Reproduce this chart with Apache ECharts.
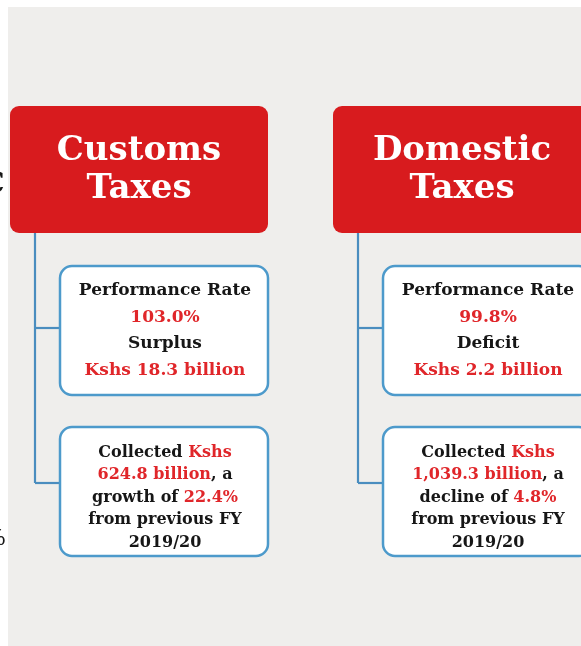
<!DOCTYPE html>
<html>
<head>
<meta charset="utf-8">
<style>
  html, body { margin: 0; padding: 0; background: #efeeec; }
  #chart { width: 581px; height: 646px; }
</style>
<script src="https://cdn.jsdelivr.net/npm/echarts@6/dist/echarts.min.js"></script>
</head>
<body>
<div id="chart"></div>
<script>
// ---- data ----
const categories = ['Customs\nTaxes', 'Domestic\nTaxes'];
const performanceRate = [103.0, 99.8];          // %
const balanceLabel = ['Surplus', 'Deficit'];
const balanceBillions = [18.3, 2.2];            // Kshs billion
const collectedBillions = [624.8, 1039.3];      // Kshs billion
const changeLabel = ['growth', 'decline'];
const changePct = [22.4, 4.8];                  // %
const previousFY = '2019/20';

// ---- styles ----
const RED = '#d81b1e';
const RED_TEXT = '#e0262a';
const DARK = '#161616';
const BLUE = '#4d9acb';
const LINE_BLUE = '#4a8dbf';
const SERIF = '"DejaVu Serif", Georgia, serif';

const fmt1 = v => v.toLocaleString('en-US', { minimumFractionDigits: 1, maximumFractionDigits: 1 });

function renderItem(params, api) {
  const i = params.dataIndex;
  const x0 = api.coord([api.value(0), 0])[0];   // panel left edge
  const headW = 258, headTop = 106, headH = 127;
  const stemX = x0 + 25;
  const boxX = x0 + 50, boxW = 208;
  const b1Top = 266, b1H = 129;
  const b2Top = 427, b2H = 129;
  const c1Y = 328, c2Y = 483;
  const lineStyle = { stroke: LINE_BLUE, lineWidth: 2.2 };

  const t1 = '{b|Performance Rate}\n{r|' + fmt1(performanceRate[i]) + '%}\n{b|' +
    balanceLabel[i] + '}\n{r|Kshs ' + fmt1(balanceBillions[i]) + ' billion}';
  const t2 = '{b|Collected }{r|Kshs}\n{r|' + fmt1(collectedBillions[i]) + ' billion}{b|, a}\n{b|' +
    changeLabel[i] + ' of }{r|' + fmt1(changePct[i]) + '%}\n{b|from previous FY}\n{b|' + previousFY + '}';

  return {
    type: 'group',
    children: [
      { type: 'line', shape: { x1: stemX, y1: headTop + headH, x2: stemX, y2: c2Y }, style: lineStyle },
      { type: 'line', shape: { x1: stemX, y1: c1Y, x2: boxX, y2: c1Y }, style: lineStyle },
      { type: 'line', shape: { x1: stemX, y1: c2Y, x2: boxX, y2: c2Y }, style: lineStyle },
      { type: 'rect', shape: { x: x0, y: headTop, width: headW, height: headH, r: 9 },
        style: { fill: RED } },
      { type: 'text', x: x0 + headW / 2, y: headTop + headH / 2 + 1,
        style: { text: categories[i], fill: '#ffffff', font: 'bold 34px ' + SERIF,
          lineHeight: 38, align: 'center', verticalAlign: 'middle' } },
      { type: 'rect', shape: { x: boxX, y: b1Top, width: boxW, height: b1H, r: 12 },
        style: { fill: '#ffffff', stroke: BLUE, lineWidth: 2.5 } },
      { type: 'text', x: boxX + boxW / 2 + 1, y: b1Top + b1H / 2,
        style: { text: t1, align: 'center', verticalAlign: 'middle',
          rich: {
            b: { fontFamily: SERIF, fontWeight: 'bold', fontSize: 17, lineHeight: 26.5, fill: DARK, color: DARK },
            r: { fontFamily: SERIF, fontWeight: 'bold', fontSize: 17, lineHeight: 26.5, fill: RED_TEXT, color: RED_TEXT }
          } } },
      { type: 'rect', shape: { x: boxX, y: b2Top, width: boxW, height: b2H, r: 12 },
        style: { fill: '#ffffff', stroke: BLUE, lineWidth: 2.5 } },
      { type: 'text', x: boxX + boxW / 2 + 1, y: b2Top + b2H / 2 + 6,
        style: { text: t2, align: 'center', verticalAlign: 'middle',
          rich: {
            b: { fontFamily: SERIF, fontWeight: 'bold', fontSize: 16, lineHeight: 22.5, fill: DARK, color: DARK },
            r: { fontFamily: SERIF, fontWeight: 'bold', fontSize: 16, lineHeight: 22.5, fill: RED_TEXT, color: RED_TEXT }
          } } }
    ]
  };
}

const chart = echarts.init(document.getElementById('chart'), null, { renderer: 'canvas' });
chart.setOption({
  backgroundColor: '#efeeec',
  animation: false,
  // 571 px wide grid; one x unit = 323 px (panel pitch)
  grid: { left: 10, right: 0, top: 0, bottom: 0 },
  xAxis: { type: 'value', min: 0, max: 571 / 323, show: false },
  yAxis: { type: 'value', min: 0, max: 1, show: false },
  graphic: [
    { type: 'rect', shape: { x: 0, y: 0, width: 581, height: 7 }, style: { fill: '#ffffff' }, z: -1 },
    { type: 'rect', shape: { x: 0, y: 0, width: 8, height: 646 }, style: { fill: '#ffffff' }, z: -1 },
    { type: 'text', x: -18, y: 170, style: { text: 'C', font: '30px ' + SERIF, fill: DARK } },
    { type: 'text', x: -15, y: 528, style: { text: '%', font: '22px ' + SERIF, fill: DARK } }
  ],
  series: [{
    type: 'custom',
    renderItem: renderItem,
    clip: false,
    data: categories.map((c, i) => [i, 0]),
    encode: { x: 0, y: 1 }
  }]
});
</script>
</body>
</html>
